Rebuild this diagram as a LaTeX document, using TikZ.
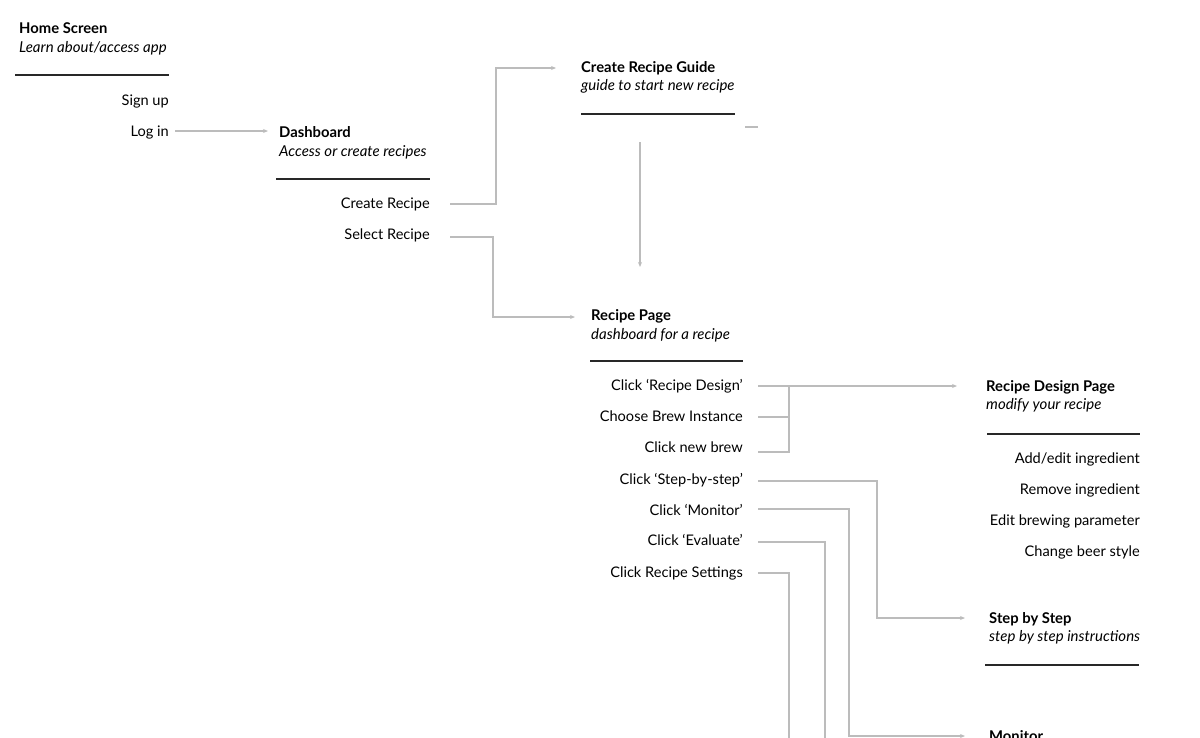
\documentclass[tikz,border=0pt]{standalone}
\usepackage{fontspec}
\setmainfont{Lato}
\usetikzlibrary{arrows.meta}
\definecolor{conngray}{RGB}{188,188,188}
\definecolor{rulegray}{RGB}{40,40,40}
\begin{document}
\begin{tikzpicture}[x=1pt,y=-1pt,
  every node/.style={inner sep=0pt, text height=12pt, text depth=1pt, font=\fontsize{14.6}{17}\selectfont},
  title/.style={anchor=west, font=\fontsize{14.8}{17}\selectfont\bfseries},
  sub/.style={anchor=west, font=\fontsize{15}{17}\selectfont\itshape},
  item/.style={anchor=east},
  conn/.style={draw=conngray, line width=1.1pt},
  arr/.style={conn, -{Stealth[length=5pt,width=4pt]}},
  rule/.style={draw=rulegray, line width=1.2pt},
]
\path[use as bounding box] (0,0) rectangle (1200,737);
\clip (0,0) rectangle (1200,737);

% Home screen
\node[title] (hs) at (19,28) {Home Screen};
\node[sub] (hss) at (19,47) {Learn about/access app};
\draw[rule] (15,75) -- (169,75);
\node[item] (su) at (169,100) {Sign up};
\node[item] (li) at (169,131) {Log in};

% Dashboard
\node[title] (db) at (279,132) {Dashboard};
\node[sub] (dbs) at (279,151) {Access or create recipes};
\draw[rule] (276,179) -- (430,179);
\node[item] (cr) at (430,203) {Create Recipe};
\node[item] (sr) at (430,234) {Select Recipe};

\draw[arr, shorten <=6pt, shorten >=11pt] (li.east) -- (li.east -| db.west);

% Create recipe guide
\node[title] (crg) at (581,67) {Create Recipe Guide};
\node[sub] (crgs) at (581,85) {guide to start new recipe};
\draw[rule] (581,114) -- (735,114);
\coordinate (d1) at (745,127);
\coordinate (d2) at (758,127);
\draw[conn] (d1) -- (d2);
\coordinate (b1) at (496,0);
\draw[arr, shorten <=20pt, shorten >=25pt] ([yshift=-1pt]cr.east) -- ([yshift=-1pt]cr.east -| b1) |- ([yshift=-1pt]crg.west);
\coordinate (g1) at (640,142);
\coordinate (g2) at (640,267);
\draw[arr] (g1) -- (g2);

% Recipe page
\node[title] (rp) at (591,315) {Recipe Page};
\node[sub] (rps) at (591,334) {dashboard for a recipe};
\draw[rule] (590,361) -- (743,361);
\coordinate (b2) at (493,0);
\draw[arr, shorten <=20pt, shorten >=16pt] ([yshift=-3pt]sr.east) -- ([yshift=-3pt]sr.east -| b2) |- ([yshift=-2pt]rp.west);

\node[item] (rd) at (743,385) {Click ‘Recipe Design’};
\node[item] (cb) at (743,416) {Choose Brew Instance};
\node[item] (nb) at (743,447) {Click new brew};
\node[item] (ss) at (743,479) {Click ‘Step-by-step’};
\node[item] (mo) at (743,510) {Click ‘Monitor’};
\node[item] (ev) at (743,540) {Click ‘Evaluate’};
\node[item] (rs) at (743,572) {Click Recipe Settings};

% Recipe design page
\node[title] (rdp) at (986,386) {Recipe Design Page};
\node[sub] (rdps) at (986,404) {modify your recipe};
\draw[rule] (987,434) -- (1140,434);
\node[item] (ai) at (1140,458) {Add/edit ingredient};
\node[item] (ri) at (1140,489) {Remove ingredient};
\node[item] (ep) at (1140,520) {Edit brewing parameter};
\node[item] (bs) at (1140,551) {Change beer style};

% Step by step
\node[title] (sbs) at (989,618) {Step by Step};
\node[sub] (sbss) at (989,636) {step by step instructions};
\draw[rule] (985,665) -- (1139,665);

% Monitor
\node[title] (mon) at (989,736) {Monitor};

% branches from recipe page
\coordinate (j1) at (789,0);
\draw[conn, shorten <=15pt] ([yshift=-1pt]rd.east) -- ([yshift=-1pt]rd.east -| j1);
\draw[conn, shorten <=15pt] ([yshift=-1pt]cb.east) -- ([yshift=-1pt]cb.east -| j1);
\draw[conn, shorten <=15pt] ([yshift=-5pt]nb.east) -- ([yshift=-5pt]nb.east -| j1) -- ([yshift=-1pt]rd.east -| j1);
\draw[arr, shorten >=29pt] ([yshift=-1pt]rd.east -| j1) -- ([yshift=-1pt]rd.east -| rdp.west);

\coordinate (j2) at (877,0);
\draw[arr, shorten <=15pt, shorten >=24pt] ([yshift=-2pt]ss.east) -- ([yshift=-2pt]ss.east -| j2) |- (sbs.west);

\coordinate (j3) at (849,0);
\draw[arr, shorten <=15pt, shorten >=24pt] ([yshift=1pt]mo.east) -- ([yshift=1pt]mo.east -| j3) |- (mon.west);

\coordinate (j4) at (825,0);
\coordinate (e4) at (825,750);
\draw[conn, shorten <=15pt] ([yshift=-2pt]ev.east) -- ([yshift=-2pt]ev.east -| j4) -- (e4);

\coordinate (e5) at (789,750);
\draw[conn, shorten <=15pt] ([yshift=-1pt]rs.east) -- ([yshift=-1pt]rs.east -| j1) -- (e5);
\end{tikzpicture}
\end{document}
